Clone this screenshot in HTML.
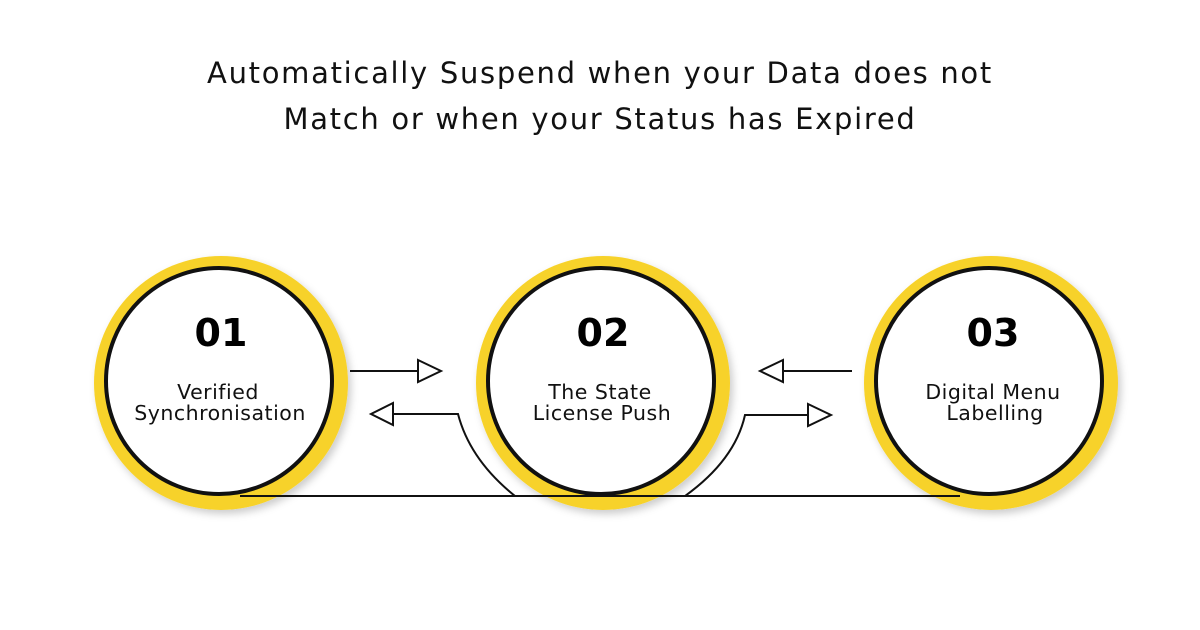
<!DOCTYPE html>
<html><head><meta charset="utf-8"><style>
body{margin:0;width:1200px;height:630px;background:#fff;overflow:hidden;font-family:"DejaVu Sans",sans-serif}
.t{position:absolute;left:0;width:1200px;text-align:center;font-size:29px;color:#111;line-height:46px;letter-spacing:1.7px}
</style></head><body>
<div class="t" style="top:50px">Automatically Suspend when your Data does not<br>Match or when your Status has Expired</div>
<svg width="1200" height="630" style="position:absolute;left:0;top:0">
<defs><filter id="s" x="-20%" y="-20%" width="140%" height="140%"><feDropShadow dx="3" dy="4" stdDeviation="4" flood-opacity="0.2"/></filter></defs>
<g>
<circle cx="221" cy="383" r="127" fill="#f7d22c" filter="url(#s)"/>
<circle cx="219" cy="381" r="113" fill="#fff" stroke="#111" stroke-width="4"/>
<circle cx="603" cy="383" r="127" fill="#f7d22c" filter="url(#s)"/>
<circle cx="601" cy="381" r="113" fill="#fff" stroke="#111" stroke-width="4"/>
<circle cx="991" cy="383" r="127" fill="#f7d22c" filter="url(#s)"/>
<circle cx="989" cy="381" r="113" fill="#fff" stroke="#111" stroke-width="4"/>
</g>
<g fill="none" stroke="#111" stroke-width="2">
<line x1="240" y1="496" x2="960" y2="496"/>
<path d="M515 496 Q470 460 458 414 L393 414"/>
<path d="M685 496 Q735 460 745 415 L808 415"/>
<line x1="350" y1="371" x2="418" y2="371"/>
<line x1="852" y1="371" x2="783" y2="371"/>
<path d="M418 360 L441 371 L418 382 Z" fill="#fff"/>
<path d="M393 403 L371 414 L393 425 Z" fill="#fff"/>
<path d="M808 404 L831 415 L808 426 Z" fill="#fff"/>
<path d="M783 360 L760 371 L783 382 Z" fill="#fff"/>
</g>
<g font-family="DejaVu Sans, sans-serif" text-anchor="middle" fill="#000">
<text x="221" y="346" font-size="38" font-weight="bold">01</text>
<text x="603" y="346" font-size="38" font-weight="bold">02</text>
<text x="993" y="346" font-size="38" font-weight="bold">03</text>
<g font-size="20.5" fill="#111" letter-spacing="0.5">
<text x="218" y="399">Verified</text><text x="220" y="420">Synchronisation</text>
<text x="600" y="399">The State</text><text x="602" y="420">License Push</text>
<text x="993" y="399">Digital Menu</text><text x="995" y="420">Labelling</text>
</g></g>
</svg>
</body></html>
